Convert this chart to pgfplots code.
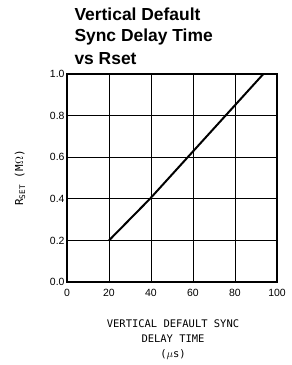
\documentclass[border=0pt]{standalone}
\usepackage{pgfplots}
\pgfplotsset{compat=1.18}
\usepackage{fontspec}
\setmainfont{Liberation Sans}
\newfontfamily\labfont{DejaVu Sans Mono}
\begin{document}
\begin{tikzpicture}[x=1bp,y=1bp]
\path[use as bounding box] (-67,-83) rectangle (225,282);
\begin{axis}[
  at={(0,0)}, anchor=origin,
  scale only axis, width=210bp, height=208bp,
  xmin=0, xmax=100, ymin=0, ymax=1,
  xtick={0,20,40,60,80,100},
  ytick={0,0.2,0.4,0.6,0.8,1.0},
  yticklabel style={/pgf/number format/fixed,/pgf/number format/fixed zerofill,/pgf/number format/precision=1},
  /pgf/number format/assume math mode=true,
  ticklabel style={font=\fontsize{10.5}{12}\selectfont},
  xticklabel style={yshift=-4bp},
  yticklabel style={xshift=1bp},
  major tick length=0pt,
  grid=major,
  major grid style={black, line width=0.8pt},
  axis line style={black, line width=1.1pt},
  clip=false,
]
\addplot[black, line width=2pt] coordinates {(20,0.2) (39.5,0.4) (57.5,0.6) (75.5,0.8) (93.5,1.0)};
\end{axis}
\node[anchor=base west, font=\fontsize{17.5}{21.5}\selectfont\bfseries, align=left] at (4,262) {Vertical Default};
\node[anchor=base west, font=\fontsize{17.5}{21.5}\selectfont\bfseries] at (4,241) {Sync Delay Time};
\node[anchor=base west, font=\fontsize{17.5}{21.5}\selectfont\bfseries] at (4,218) {vs Rset};
\node[rotate=90, font=\labfont\fontsize{11}{13}\selectfont] at (-47,104) {R\textsubscript{SET} (M$\Omega$)};
\node[font=\labfont\fontsize{10.5}{15}\selectfont, align=center, anchor=north] at (106,-34) {VERTICAL DEFAULT SYNC\\DELAY TIME\\($\mu$s)};
\end{tikzpicture}
\end{document}
